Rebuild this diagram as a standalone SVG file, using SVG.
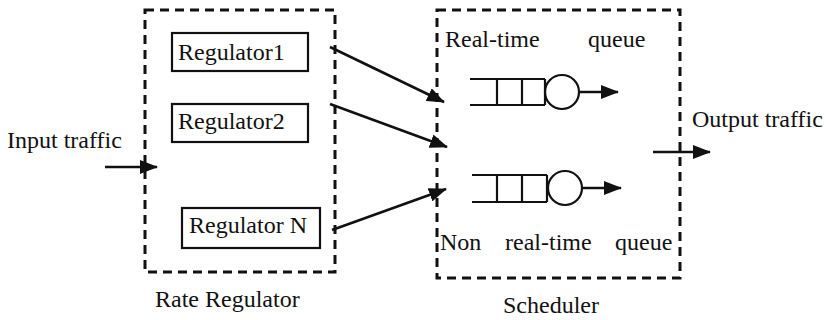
<svg xmlns="http://www.w3.org/2000/svg" width="831" height="320" viewBox="0 0 831 320">
  <defs>
    <marker id="arrow" viewBox="0 0 18 14" refX="17" refY="7" markerWidth="18" markerHeight="14" markerUnits="userSpaceOnUse" orient="auto">
      <path d="M0,0 L18,7 L0,14 Z" fill="#111"/>
    </marker>
    <style>
      text { font-family: "Liberation Serif", "Times New Roman", serif; font-size: 24px; fill: #111; }
      .dash { fill: none; stroke: #111; stroke-width: 3; stroke-dasharray: 9 6; }
      .box { fill: #fff; stroke: #111; stroke-width: 2.2; }
      .line { fill: none; stroke: #111; stroke-width: 2.2; }
      .conn { fill: none; stroke: #111; stroke-width: 2.6; marker-end: url(#arrow); }
    </style>
  </defs>
  <rect width="831" height="320" fill="#fff"/>

  <!-- Rate regulator group -->
  <g id="rate-regulator">
    <rect class="dash" x="145" y="10" width="190" height="262"/>
    <text x="155" y="307">Rate Regulator</text>
  </g>
  <g id="regulator1">
    <rect class="box" x="172" y="33" width="136" height="38"/>
    <text x="178" y="60">Regulator1</text>
  </g>
  <g id="regulator2">
    <rect class="box" x="172" y="104" width="136" height="38"/>
    <text x="178" y="129">Regulator2</text>
  </g>
  <g id="regulatorN">
    <rect class="box" x="182" y="208" width="138" height="40"/>
    <text x="189" y="233">Regulator N</text>
  </g>

  <!-- Scheduler group -->
  <g id="scheduler">
    <rect class="dash" x="437" y="10" width="243" height="268"/>
    <text x="503" y="313">Scheduler</text>
  </g>
  <g id="realtime-queue">
    <text x="445" y="47">Real-time</text>
    <text x="588" y="47">queue</text>
    <path class="line" d="M470,79 H545 M470,105 H545 M497,79 V105 M522,79 V105 M545,79 V105"/>
    <circle class="line" cx="562" cy="92" r="17"/>
  </g>
  <g id="nonrealtime-queue">
    <text x="440" y="250">Non</text>
    <text x="505" y="250">real-time</text>
    <text x="615" y="250">queue</text>
    <path class="line" d="M472,175 H547 M472,202 H547 M497,175 V202 M522,175 V202 M547,175 V202"/>
    <circle class="line" cx="565" cy="188" r="17"/>
  </g>

  <g id="input-label">
    <text x="7" y="148">Input traffic</text>
  </g>
  <g id="output-label">
    <text x="692" y="127">Output traffic</text>
  </g>

  <!-- Connectors -->
  <g id="connectors">
    <line class="conn" x1="105" y1="167" x2="157" y2="167"/>
    <line class="conn" x1="330" y1="47" x2="444" y2="102"/>
    <line class="conn" x1="330" y1="104" x2="447" y2="147"/>
    <line class="conn" x1="332" y1="230" x2="446" y2="189"/>
    <line class="conn" x1="579" y1="92" x2="618" y2="92"/>
    <line class="conn" x1="582" y1="188" x2="621" y2="188"/>
    <line class="conn" x1="653" y1="152" x2="710" y2="152"/>
  </g>
</svg>
